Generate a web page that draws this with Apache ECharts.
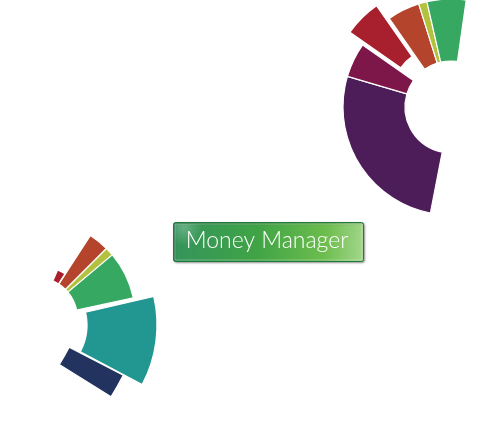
<!DOCTYPE html>
<html><head><meta charset="utf-8">
<script src="https://cdn.jsdelivr.net/npm/echarts@6/dist/echarts.min.js"></script>
<style>html,body{margin:0;padding:0;background:#fff}#c{width:488px;height:432px}</style>
</head><body><div id="c"></div>
<script>
// Upper ring: sweep of each slice, in degrees
const upperNames  = ['Housing', 'Bills', 'Shopping', 'Transport', 'Fees', 'Savings'];
const upperValues = [95.5, 18.6, 20, 17.5, 4.5, 21];
const upperColors = ['#4D1D5A', '#7D1649', '#A81F2E', '#B4442B', '#B3C23E', '#37A862'];
const upperSelected = 'Shopping';

// Lower cluster, drawn as several rings
const lowerMainNames  = ['Transport', 'Fees', 'Savings'];
const lowerMainValues = [12, 5, 28];
const lowerMainColors = ['#B4442B', '#B3C23E', '#37A862'];

const lowerTealNames  = ['Income'];
const lowerTealValues = [41];
const lowerTealColors = ['#229691'];

const lowerRedNames  = ['Shopping'];
const lowerRedValues = [9];
const lowerRedColors = ['#A81F2E'];

const lowerNavyNames  = ['Debt'];
const lowerNavyValues = [4.6];
const lowerNavyColors = ['#22335F'];

const titleText = 'Money Manager';

function ring(id, center, radius, startAngle, names, values, colors, selectedName, offset) {
  const sweep = values.reduce((a, b) => a + b, 0);
  return {
    type: 'pie',
    id: id,
    center: center,
    radius: radius,
    startAngle: startAngle,
    endAngle: startAngle - sweep,
    clockwise: true,
    minAngle: 0,
    avoidLabelOverlap: false,
    selectedMode: selectedName ? 'single' : false,
    selectedOffset: offset || 0,
    label: { show: false },
    labelLine: { show: false },
    emphasis: { disabled: true },
    itemStyle: { borderColor: '#fff', borderWidth: 1.2 },
    data: names.map((n, i) => ({
      name: n,
      value: values[i],
      selected: n === selectedName,
      itemStyle: { color: colors[i] }
    }))
  };
}

const chart = echarts.init(document.getElementById('c'), null, { renderer: 'canvas' });
chart.setOption({
  animation: false,
  backgroundColor: '#fff',
  tooltip: { show: false },
  series: [
    ring('upper', [451, 107], [46, 108], 259, upperNames, upperValues, upperColors, upperSelected, 18),
    ring('navy', [-153, 232.5], [250, 311], -27.3, lowerNavyNames, lowerNavyValues, lowerNavyColors),
    ring('teal', [30, 325], [57, 127], 13, lowerTealNames, lowerTealValues, lowerTealColors),
    ring('main', [36.5, 318.5], [41, 99], 57, lowerMainNames, lowerMainValues, lowerMainColors),
    ring('red', [36.5, 318.5], [41, 53], 66.5, lowerRedNames, lowerRedValues, lowerRedColors)
  ],
  graphic: [
    {
      type: 'rect',
      shape: { x: 173.5, y: 222.5, width: 190, height: 39, r: 2 },
      style: {
        fill: new echarts.graphic.LinearGradient(0, 0, 1, 0.4, [
          { offset: 0, color: '#33935c' },
          { offset: 0.45, color: '#40a445' },
          { offset: 0.8, color: '#6dbd4e' },
          { offset: 1, color: '#a3d68b' }
        ]),
        stroke: '#1f7a3e',
        lineWidth: 1,
        shadowBlur: 2,
        shadowOffsetX: 1,
        shadowOffsetY: 1,
        shadowColor: 'rgba(0,0,0,0.35)'
      }
    },
    {
      type: 'rect',
      shape: { x: 175, y: 224, width: 187, height: 36, r: 1 },
      style: {
        fill: new echarts.graphic.RadialGradient(0.05, 0.1, 0.5, [
          { offset: 0, color: 'rgba(255,255,255,0.25)' },
          { offset: 1, color: 'rgba(255,255,255,0)' }
        ]),
        stroke: 'rgba(255,255,255,0.3)',
        lineWidth: 1
      }
    },
    {
      type: 'text',
      style: {
        text: titleText,
        x: 267,
        y: 241,
        textAlign: 'center',
        textVerticalAlign: 'middle',
        fill: '#ffffff',
        font: '300 23px Lato'
      }
    }
  ]
});
</script>
</body></html>
